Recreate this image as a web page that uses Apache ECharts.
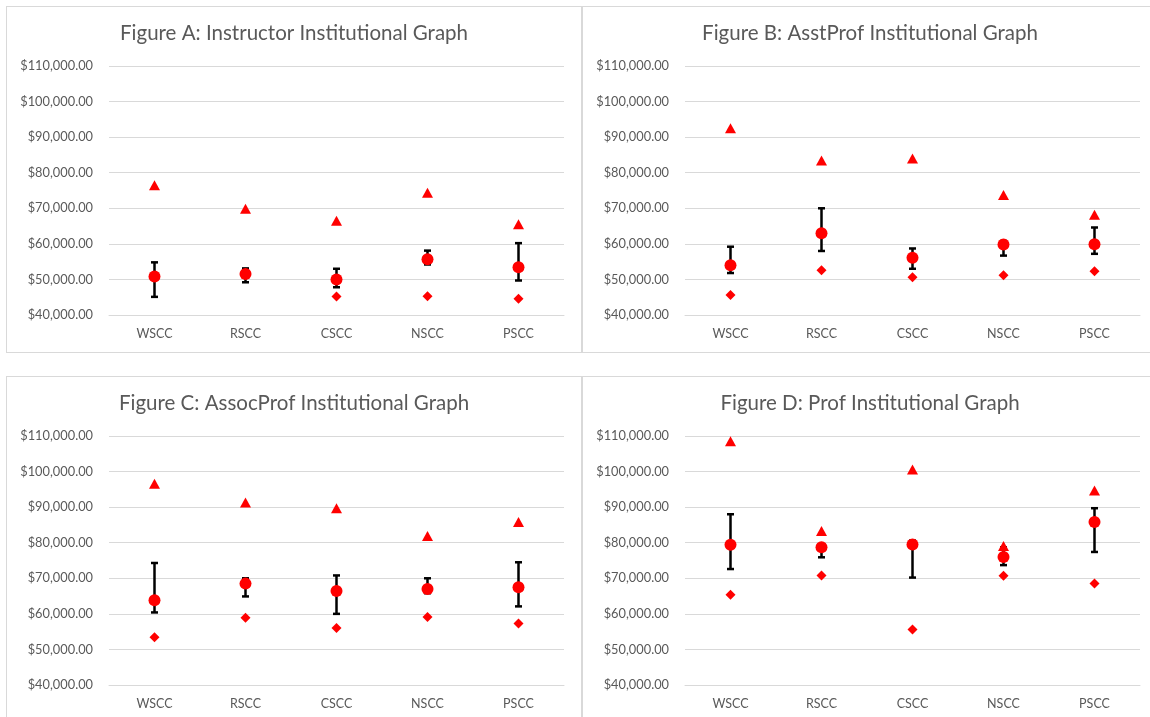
<!DOCTYPE html>
<html>
<head>
<meta charset="utf-8">
<script src="https://cdn.jsdelivr.net/npm/echarts@6/dist/echarts.min.js"></script>
<style>
html,body{margin:0;padding:0;background:#fff;}
#chart{width:1150px;height:717px;}
</style>
</head>
<body>
<div id="chart"></div>
<script>
const categories = ['WSCC', 'RSCC', 'CSCC', 'NSCC', 'PSCC'];
const yTicks = [40000, 50000, 60000, 70000, 80000, 90000, 100000, 110000];

const titleA = 'Figure A: Instructor Institutional Graph';
const maxA  = [76500, 69900, 66500, 74400, 65500];
const meanA = [50800, 51500, 50000, 55700, 53400];
const hiA   = [54800, 53100, 53000, 58100, 60200];
const loA   = [45100, 49200, 47800, 54200, 49700];
const minA  = [null, null, 45200, 45300, 44600];

const titleB = 'Figure B: AsstProf Institutional Graph';
const maxB  = [92500, 83400, 84000, 73700, 68200];
const meanB = [54000, 63000, 56100, 59800, 59900];
const hiB   = [59200, 70000, 58700, 60800, 64600];
const loB   = [51800, 58000, 53000, 56700, 57200];
const minB  = [45600, 52600, 50600, 51200, 52300];

const titleC = 'Figure C: AssocProf Institutional Graph';
const maxC  = [96600, 91300, 89700, 81900, 85800];
const meanC = [63800, 68500, 66400, 67000, 67500];
const hiC   = [74300, 70000, 70800, 70000, 74500];
const loC   = [60400, 64900, 60000, 65800, 62100];
const minC  = [53400, 58900, 56000, 59100, 57300];

const titleD = 'Figure D: Prof Institutional Graph';
const maxD  = [108500, 83300, 100600, 79100, 94700];
const meanD = [79400, 78700, 79500, 76000, 85800];
const hiD   = [88000, 79500, 80600, 78700, 89700];
const loD   = [72600, 75900, 70200, 73700, 77400];
const minD  = [65400, 70800, 55600, 70700, 68500];

const panels = [
  {title: titleA, max: maxA, mean: meanA, hi: hiA, lo: loA, min: minA, left: 109, top: 66, cx: 294},
  {title: titleB, max: maxB, mean: meanB, hi: hiB, lo: loB, min: minB, left: 685, top: 66, cx: 870},
  {title: titleC, max: maxC, mean: meanC, hi: hiC, lo: loC, min: minC, left: 109, top: 436, cx: 294},
  {title: titleD, max: maxD, mean: meanD, hi: hiD, lo: loD, min: minD, left: 685, top: 436, cx: 870}
];

const FONT = 'Lato';
const TXT = '#595959';
const GRID = '#d9d9d9';

function money(v) {
  const s = Math.round(v).toString().replace(/\B(?=(\d{3})+(?!\d))/g, ',');
  return '$' + s + '.00';
}

const grid = [], xAxis = [], yAxis = [], series = [], graphic = [];

panels.forEach((p, k) => {
  grid.push({left: p.left, top: p.top, width: 455, height: 249, containLabel: false});
  xAxis.push({
    type: 'category', gridIndex: k, data: categories, boundaryGap: true,
    axisLine: {show: true, lineStyle: {color: GRID, width: 1}},
    axisTick: {show: false},
    axisLabel: {color: TXT, fontFamily: FONT, fontSize: 12.5, margin: 12}
  });
  yAxis.push({
    type: 'value', gridIndex: k, min: yTicks[0], max: yTicks[yTicks.length - 1], interval: 10000,
    axisLine: {show: false}, axisTick: {show: false},
    splitLine: {lineStyle: {color: GRID, width: 1}},
    axisLabel: {color: TXT, fontFamily: FONT, fontSize: 12.8, margin: 16, formatter: money}
  });
  series.push({
    type: 'custom', xAxisIndex: k, yAxisIndex: k, z: 2,
    data: categories.map((c, i) => [i, p.hi[i], p.lo[i]]),
    encode: {x: 0, y: [1, 2]},
    renderItem: function (params, api) {
      const i = api.value(0);
      const t = api.coord([i, api.value(1)]);
      const b = api.coord([i, api.value(2)]);
      const w = 3.5;
      const st = {stroke: '#000', lineWidth: 2.5};
      return {type: 'group', children: [
        {type: 'line', shape: {x1: t[0], y1: t[1], x2: b[0], y2: b[1]}, style: st},
        {type: 'line', shape: {x1: t[0] - w, y1: t[1], x2: t[0] + w, y2: t[1]}, style: st},
        {type: 'line', shape: {x1: b[0] - w, y1: b[1], x2: b[0] + w, y2: b[1]}, style: st}
      ]};
    },
    silent: true
  });
  const pts = arr => arr.map((v, i) => v == null ? null : [i, v]).filter(d => d);
  series.push({
    type: 'scatter', xAxisIndex: k, yAxisIndex: k, z: 3,
    symbol: 'circle', symbolSize: 12, itemStyle: {color: '#ff0000', opacity: 1},
    data: pts(p.mean)
  });
  series.push({
    type: 'scatter', xAxisIndex: k, yAxisIndex: k, z: 4,
    symbol: 'triangle', symbolSize: [11, 10], itemStyle: {color: '#ff0000', opacity: 1},
    data: pts(p.max)
  });
  series.push({
    type: 'scatter', xAxisIndex: k, yAxisIndex: k, z: 4,
    symbol: 'diamond', symbolSize: [10, 10], itemStyle: {color: '#ff0000', opacity: 1},
    data: pts(p.min)
  });
  graphic.push({
    type: 'text', x: p.cx, y: p.top - 33,
    style: {text: p.title, fill: TXT, font: '20.5px ' + FONT, textAlign: 'center', textVerticalAlign: 'middle'}
  });
});

// panel borders
const bl = (x1, y1, x2, y2, w) => ({type: 'line', shape: {x1, y1, x2, y2}, style: {stroke: GRID, lineWidth: w || 1}, silent: true});
graphic.push(bl(6, 6.5, 1150, 6.5));
graphic.push(bl(6, 352.5, 1150, 352.5));
graphic.push(bl(6, 376.5, 1150, 376.5));
graphic.push(bl(6.5, 6, 6.5, 352.5));
graphic.push(bl(6.5, 376, 6.5, 717));
graphic.push(bl(582, 6, 582, 352.5, 2));
graphic.push(bl(582, 376, 582, 717, 2));

const chart = echarts.init(document.getElementById('chart'), null, {renderer: 'canvas'});
chart.setOption({
  animation: false,
  backgroundColor: '#fff',
  grid, xAxis, yAxis, series, graphic
});
</script>
</body>
</html>
